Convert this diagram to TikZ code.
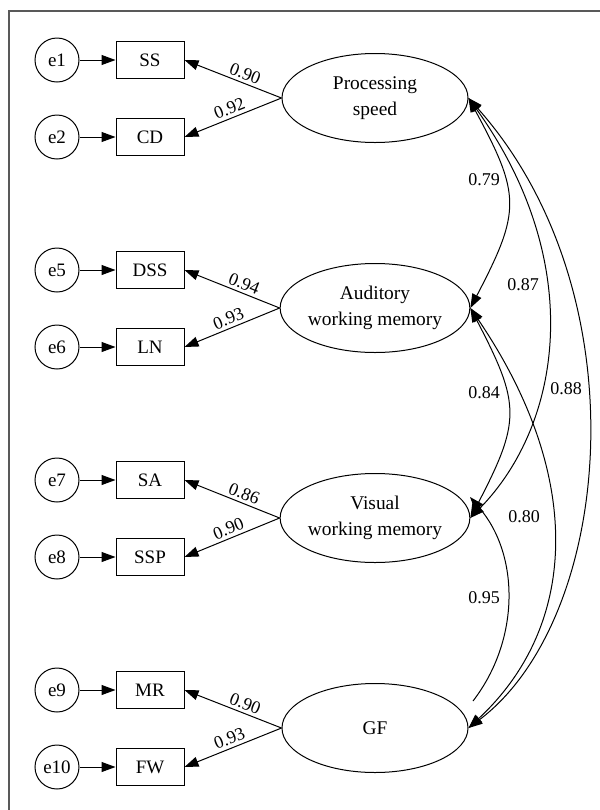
\documentclass[tikz,border=0pt]{standalone}
\usepackage{fontspec}
\setmainfont{Liberation Serif}
\usetikzlibrary{arrows.meta,shapes.geometric}

\begin{document}
\begin{tikzpicture}[
  x=0.5pt, y=-0.5pt,
  line width=0.5pt,
  font=\fontsize{9.5}{11}\selectfont,
  err/.style={
    draw, circle, minimum size=22pt,
    inner sep=0pt
  },
  ind/.style={
    draw, rectangle, minimum width=34pt,
    minimum height=18.5pt, inner sep=0pt
  },
  lat/.style={
    draw, ellipse, minimum width=93pt,
    minimum height=44.5pt, inner sep=0pt,
    align=center,
    font=\fontsize{9.7}{13}\selectfont
  },
  coef/.style={
    font=\fontsize{9}{11}\selectfont,
    inner sep=1.5pt
  },
  arr/.style={-{Triangle[length=7pt,width=5pt]}},
  cov/.style={
    {Triangle[length=7pt,width=5pt]}-{Triangle[length=7pt,width=5pt]}}
]
\useasboundingbox (0,0) rectangle (600,810);

% frame
\draw[gray!70!black, line width=0.7pt]
  (9,810) -- (9,11) -- (600,11);

% latent factors
\node[lat] (ps)  at (375,98)  {Processing\\speed};
\node[lat] (awm) at (375,308) {Auditory\\working memory};
\node[lat] (vwm) at (375,518) {Visual\\working memory};
\node[lat] (gf)  at (375,728) {GF};

% indicators
\node[ind] (ss)  at (150,60)  {SS};
\node[ind] (cd)  at (150,137) {CD};
\node[ind] (dss) at (150,270) {DSS};
\node[ind] (ln)  at (150,347) {LN};
\node[ind] (sa)  at (150,480) {SA};
\node[ind] (ssp) at (150,557) {SSP};
\node[ind] (mr)  at (150,690) {MR};
\node[ind] (fw)  at (150,767) {FW};

% error terms
\node[err] (e1)  at (57,60)  {e1};
\node[err] (e2)  at (57,137) {e2};
\node[err] (e5)  at (57,270) {e5};
\node[err] (e6)  at (57,347) {e6};
\node[err] (e7)  at (57,480) {e7};
\node[err] (e8)  at (57,557) {e8};
\node[err] (e9)  at (57,690) {e9};
\node[err] (e10) at (57,767) {e10};

\foreach \e/\i in
  {e1/ss,e2/cd,e5/dss,e6/ln,e7/sa,e8/ssp,e9/mr,e10/fw}
  \draw[arr] (\e) -- (\i);

% loadings
\foreach \f/\a/\b/\la/\lb in
  {ps/ss/cd/0.90/0.92,awm/dss/ln/0.94/0.93,
   vwm/sa/ssp/0.86/0.90,gf/mr/fw/0.90/0.93}{
  \draw[arr] (\f.west) -- node[coef, sloped, above, pos=0.41]
    (c\a) {\la} (\a.east);
  \draw[arr] (\f.west) -- node[coef, sloped, above, pos=0.5]
    (c\b) {\lb} (\b.east);
}

% factor correlations
\draw[cov] (ps.east) .. controls (521,195) and (521,211) .. (awm.east);
\draw[cov] (awm.east) .. controls (521,405) and (521,421) .. (vwm.east);
\draw[cov] (ps.east) .. controls (586,262) and (563,423) .. (vwm.east);
\draw[cov] (ps.east) .. controls (642,293) and (614,618) .. (gf.east);
\draw[cov] (awm.east) .. controls (583,474) and (580,624) .. (gf.east);
\coordinate (vtip) at (470,497);
\coordinate (gend) at (473,701);
\draw[arr] (gend) .. controls (520,640) and (520,555) .. (vtip);

\node[coef] (r79) at (484,180) {0.79};
\node[coef] (r87) at (523,285) {0.87};
\node[coef] (r84) at (484,393) {0.84};
\node[coef] (r88) at (566,389) {0.88};
\node[coef] (r80) at (524,517) {0.80};
\node[coef] (r95) at (484,598) {0.95};
\end{tikzpicture}
\end{document}
